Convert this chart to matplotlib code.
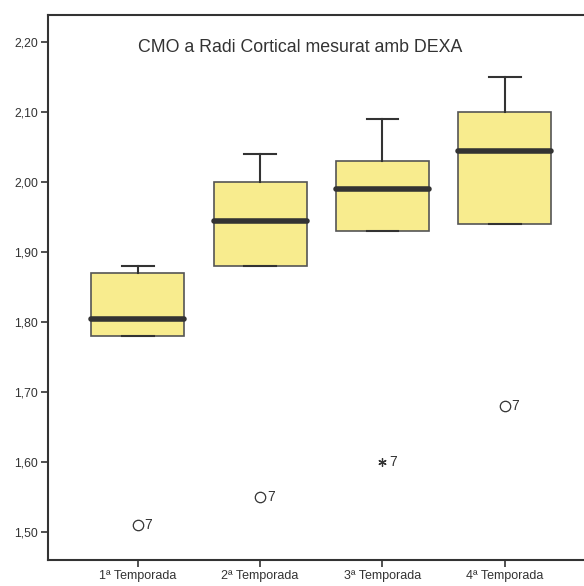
import matplotlib.pyplot as plt

plt.rcParams['font.family'] = ['Liberation Sans', 'DejaVu Sans']

# data
labels = ["1ª Temporada", "2ª Temporada", "3ª Temporada", "4ª Temporada"]
whislo = [1.78, 1.88, 1.93, 1.94]
q1 = [1.78, 1.88, 1.93, 1.94]
med = [1.805, 1.945, 1.99, 2.045]
q3 = [1.87, 2.00, 2.03, 2.10]
whishi = [1.88, 2.04, 2.09, 2.15]
outliers = [1.51, 1.55, 1.60, 1.68]
outlier_kind = ["o", "o", "*", "o"]
outlier_case = ["7", "7", "7", "7"]
yticks = [1.50, 1.60, 1.70, 1.80, 1.90, 2.00, 2.10, 2.20]

DARK = "#333333"
FILL = "#F8EC8E"

fig = plt.figure(figsize=(5.84, 5.86), dpi=100)
ax = fig.add_axes([48 / 584, 26 / 586, 540 / 584, 545 / 586])

stats = []
for i in range(len(labels)):
    stats.append({"whislo": whislo[i], "q1": q1[i], "med": med[i],
                  "q3": q3[i], "whishi": whishi[i], "fliers": []})

pos = [1, 2, 3, 4]
ax.bxp(stats, positions=pos, widths=0.76, capwidths=0.26, patch_artist=True,
       showfliers=False,
       boxprops=dict(facecolor=FILL, edgecolor="#555555", linewidth=1.2),
       whiskerprops=dict(color=DARK, linewidth=1.5),
       capprops=dict(color=DARK, linewidth=1.5),
       medianprops=dict(color=DARK, linewidth=4, solid_capstyle="round"))

for x, y, k, c in zip(pos, outliers, outlier_kind, outlier_case):
    if k == "o":
        ax.plot(x, y, marker="o", markersize=7.5, markerfacecolor="none",
                markeredgecolor=DARK, markeredgewidth=0.9)
    else:
        ax.plot(x, y, marker=(6, 2, 0), markersize=6, color=DARK, markeredgewidth=0.9)
    ax.text(x + 0.055, y, c, fontsize=10, color=DARK, va="center", ha="left")

ax.set_xlim(0.266, 4.68)
ax.set_ylim(1.46, 2.2386)
ax.set_xticks(pos)
ax.set_xticklabels(labels, fontsize=9, color=DARK)
ax.set_yticks(yticks)
ax.set_yticklabels([f"{v:.2f}".replace(".", ",") for v in yticks], fontsize=8.8, color=DARK)
ax.tick_params(direction="out", length=5, width=1.2, color=DARK, pad=2)

for s in ["left", "bottom", "top"]:
    ax.spines[s].set_color(DARK)
    ax.spines[s].set_linewidth(1.5)
ax.spines["right"].set_visible(False)

ax.text(0.467, 0.941, "CMO a Radi Cortical mesurat amb DEXA", transform=ax.transAxes,
        fontsize=12.8, color=DARK, ha="center", va="center")

fig.savefig("out.png", dpi=100)
